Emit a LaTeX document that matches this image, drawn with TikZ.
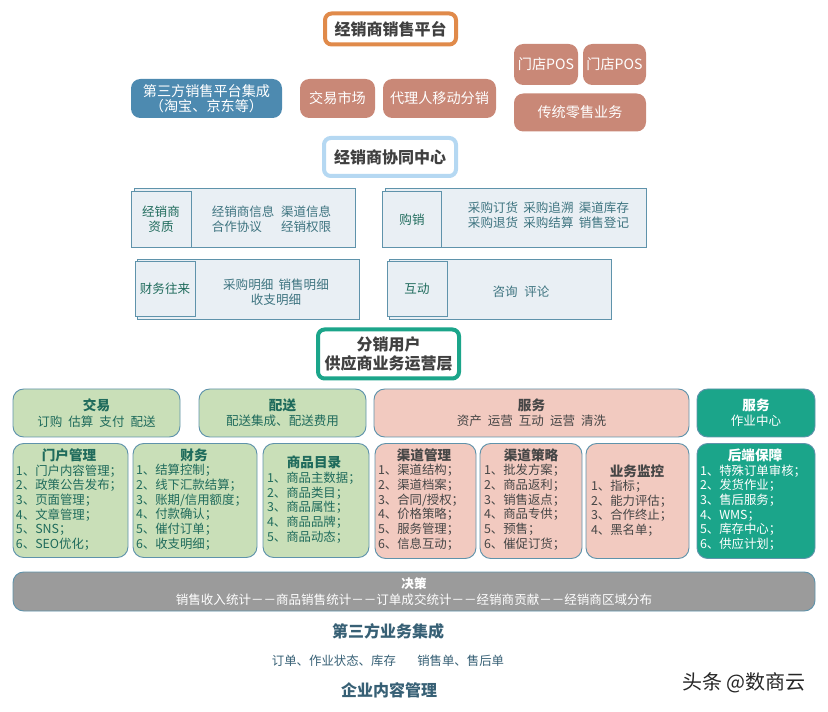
\documentclass[tikz,border=0pt]{standalone}
\usepackage{fontspec}
\setmainfont{Noto Sans CJK SC}
\usetikzlibrary{positioning}
\definecolor{ocre}{RGB}{224,138,74}
\definecolor{skyline}{RGB}{181,216,242}
\definecolor{teal1}{RGB}{27,165,138}
\definecolor{bluefill}{RGB}{77,138,176}
\definecolor{brownfill}{RGB}{201,136,119}
\definecolor{panelfill}{RGB}{233,239,244}
\definecolor{paneledge}{RGB}{95,147,171}
\definecolor{paneltext}{RGB}{62,116,128}
\definecolor{greenfill}{RGB}{201,223,184}
\definecolor{greentext}{RGB}{31,107,92}
\definecolor{pinkfill}{RGB}{242,202,192}
\definecolor{pinktext}{RGB}{70,70,70}
\definecolor{greyfill}{RGB}{155,155,155}
\definecolor{headtext}{RGB}{64,64,64}
\definecolor{bottomtext}{RGB}{55,96,117}
\def\px{0.75pt}
\tikzset{
  every node/.style={inner sep=0pt, outer sep=0pt},
  titlebox/.style={draw, fill=white, rounded corners=5pt, line width=3pt, font=\fontsize{12}{14.5}\selectfont\bfseries, text=headtext, align=center},
  softbox/.style={rounded corners=7pt, text=white, font=\fontsize{10.6}{11.5}\selectfont, align=center},
  backpanel/.style={draw=paneledge, fill=panelfill, line width=0.7pt},
  frontpanel/.style={draw=paneledge, fill=panelfill, line width=0.7pt, text=greentext, font=\fontsize{9.4}{11.2}\selectfont, align=center},
  paneltxt/.style={text=paneltext, font=\fontsize{9.4}{11.2}\selectfont, align=left},
  topbox/.style={draw=paneledge, rounded corners=8pt, line width=0.7pt, font=\fontsize{9.4}{11.5}\selectfont, align=center},
  cardbox/.style={draw=paneledge, rounded corners=8pt, line width=0.7pt},
  greenstyle/.style={fill=greenfill, text=greentext},
  pinkstyle/.style={fill=pinkfill, text=pinktext},
  tealstyle/.style={fill=teal1, text=white},
  headtxt/.style={font=\fontsize{10.2}{12}\selectfont\bfseries},
  listtxt/.style={anchor=north west, font=\fontsize{9.3}{11}\selectfont, align=left},
  bottomtxt/.style={text=bottomtext, font=\fontsize{12}{14}\selectfont\bfseries}
}
\begin{document}
\begin{tikzpicture}[x=0.75pt,y=-0.75pt]
\useasboundingbox (0,0) rectangle (828,712);

% platform
\node[titlebox, draw=ocre, minimum width=131*\px, minimum height=31*\px] (platform) at (390.5,29) {经销商销售平台};
\node[softbox, fill=bluefill, minimum width=151*\px, minimum height=39*\px] (sanfang) at (206.5,98.5) {第三方销售平台集成\\（淘宝、京东等）};
\node[softbox, fill=brownfill, minimum width=75*\px, minimum height=39*\px, right=18*\px of sanfang] (market) {交易市场};
\node[softbox, fill=brownfill, minimum width=113*\px, minimum height=39*\px, right=8*\px of market] (agent) {代理人移动分销};
\node[softbox, fill=brownfill, minimum width=64*\px, minimum height=41*\px] (pos1) at (546,64.5) {门店POS};
\node[softbox, fill=brownfill, minimum width=63*\px, minimum height=41*\px, right=5*\px of pos1] (pos2) {门店POS};
\node[softbox, fill=brownfill, minimum width=132*\px, minimum height=38*\px] (retail) at (580,112.5) {传统零售业务};

% center
\node[titlebox, draw=skyline, minimum width=132*\px, minimum height=38*\px] (center) at (390,157) {经销商协同中心};

\node[backpanel, minimum width=221*\px, minimum height=59*\px] (zizhiB) at (245,218) {};
\node[frontpanel, minimum width=60*\px, minimum height=56*\px] (zizhi) at (161,219.5) {经销商\\资质};
\node[paneltxt] (zizhiT) at (271.5,219.5) {经销商信息\hspace{5pt}渠道信息\\合作协议\hspace{14.4pt}经销权限};

\node[backpanel, minimum width=261*\px, minimum height=59*\px] (gouxiaoB) at (516,218) {};
\node[frontpanel, minimum width=59*\px, minimum height=56*\px] (gouxiao) at (412,219.5) {购销};
\node[paneltxt] (gouxiaoT) at (548.5,215.5) {采购订货\hspace{4pt}采购追溯\hspace{4pt}渠道库存\\采购退货\hspace{4pt}采购结算\hspace{4pt}销售登记};

\node[backpanel, minimum width=222*\px, minimum height=60*\px] (caiwuB) at (248,289) {};
\node[frontpanel, minimum width=60*\px, minimum height=55*\px] (caiwu) at (165,288.5) {财务往来};
\node[paneltxt, align=center] (caiwuT) at (276,292) {采购明细\hspace{4pt}销售明细\\收支明细};

\node[backpanel, minimum width=222*\px, minimum height=60*\px] (hudongB) at (500,289) {};
\node[frontpanel, minimum width=60*\px, minimum height=55*\px] (hudong) at (417,288.5) {互动};
\node[paneltxt] (hudongT) at (521,292) {咨询\hspace{5pt}评论};

\node[titlebox, draw=teal1, minimum width=141*\px, minimum height=49*\px] (fenxiao) at (388.5,354) {分销用户\\供应商业务运营层};

% top row
\node[topbox, greenstyle, minimum width=167*\px, minimum height=48*\px] (jiaoyi) at (96.5,413) {{\bfseries\fontsize{10.2}{11.5}\selectfont 交易}\\订购\hspace{4.5pt}估算\hspace{4.5pt}支付\hspace{4.5pt}配送};
\node[topbox, greenstyle, minimum width=167*\px, minimum height=48*\px, right=19*\px of jiaoyi] (peisong) {{\bfseries\fontsize{10.2}{11.5}\selectfont 配送}\\配送集成、配送费用};
\node[topbox, pinkstyle, minimum width=315*\px, minimum height=48*\px, right=8*\px of peisong] (fuwu) {{\bfseries\fontsize{10.2}{11.5}\selectfont 服务}\\资产\hspace{4.5pt}运营\hspace{4.5pt}互动\hspace{4.5pt}运营\hspace{4.5pt}清洗};
\node[topbox, tealstyle, minimum width=118*\px, minimum height=48*\px, right=8*\px of fuwu] (zuoye) {{\bfseries\fontsize{10.2}{11.5}\selectfont 服务}\\作业中心};

% cards
\node[cardbox, greenstyle, minimum width=115*\px, minimum height=114*\px] (menhu) at (70.5,500.5) {};
\node[cardbox, greenstyle, minimum width=124*\px, minimum height=114*\px, right=5*\px of menhu] (cw) {};
\node[cardbox, greenstyle, minimum width=106*\px, minimum height=114*\px, right=6*\px of cw] (mulu) {};
\node[cardbox, pinkstyle, minimum width=101*\px, minimum height=115*\px] (qudao) at (425.5,501) {};
\node[cardbox, pinkstyle, minimum width=102*\px, minimum height=115*\px, right=4*\px of qudao] (celue) {};
\node[cardbox, pinkstyle, minimum width=103*\px, minimum height=115*\px, right=4*\px of celue] (jiankong) {};
\node[cardbox, tealstyle, minimum width=118*\px, minimum height=115*\px, right=8*\px of jiankong] (houduan) {};

\node[headtxt, text=greentext] (menhuH) at (69,455.5) {门户管理};
\node[listtxt, text=greentext] (menhuL) at (16,464.5) {1、门户内容管理；\\2、政策公告发布；\\3、页面管理；\\4、文章管理；\\5、SNS；\\6、SEO优化；};
\node[headtxt, text=greentext] (cwH) at (194,455.5) {财务};
\node[listtxt, text=greentext] (cwL) at (136,464.5) {1、结算控制；\\2、线下汇款结算；\\3、账期/信用额度；\\4、付款确认；\\5、催付订单；\\6、收支明细；};
\node[headtxt, text=greentext] (muluH) at (314,462.5) {商品目录};
\node[listtxt, text=greentext] (muluL) at (267,472) {1、商品主数据；\\2、商品类目；\\3、商品属性；\\4、商品品牌；\\5、商品动态；};
\node[headtxt, text=pinktext] (qudaoH) at (424,455.5) {渠道管理};
\node[listtxt, text=pinktext] (qudaoL) at (378,464.5) {1、渠道结构；\\2、渠道档案；\\3、合同/授权；\\4、价格策略；\\5、服务管理；\\6、信息互动；};
\node[headtxt, text=pinktext] (celueH) at (531,455.5) {渠道策略};
\node[listtxt, text=pinktext] (celueL) at (484,464.5) {1、批发方案；\\2、商品返利；\\3、销售返点；\\4、商品专供；\\5、预售；\\6、催促订货；};
\node[headtxt, text=pinktext] (jiankongH) at (637,471) {业务监控};
\node[listtxt, text=pinktext] (jiankongL) at (591,480) {1、指标；\\2、能力评估；\\3、合作终止；\\4、黑名单；};
\node[headtxt, text=white] (houduanH) at (755,455.5) {后端保障};
\node[listtxt, text=white] (houduanL) at (700,464.5) {1、特殊订单审核；\\2、发货作业；\\3、售后服务；\\4、WMS；\\5、库存中心；\\6、供应计划；};

% bottom
\node[topbox, fill=greyfill, text=white, minimum width=802*\px, minimum height=39*\px] (juece) at (414,591.5) {{\bfseries\fontsize{9.4}{11}\selectfont 决策}\\销售收入统计－－商品销售统计－－订单成交统计－－经销商贡献－－经销商区域分布};
\node[bottomtxt] (disanfang) at (388,631) {第三方业务集成};
\node[text=bottomtext, font=\fontsize{9.3}{11}\selectfont] (dingdan) at (388,661) {订单、作业状态、库存\hspace{16pt}销售单、售后单};
\node[bottomtxt] (neirong) at (389,690) {企业内容管理};
\node[text=black!85, font=\fontsize{15}{17}\selectfont] (toutiao) at (744,683) {头条 @数商云};
\end{tikzpicture}
\end{document}
